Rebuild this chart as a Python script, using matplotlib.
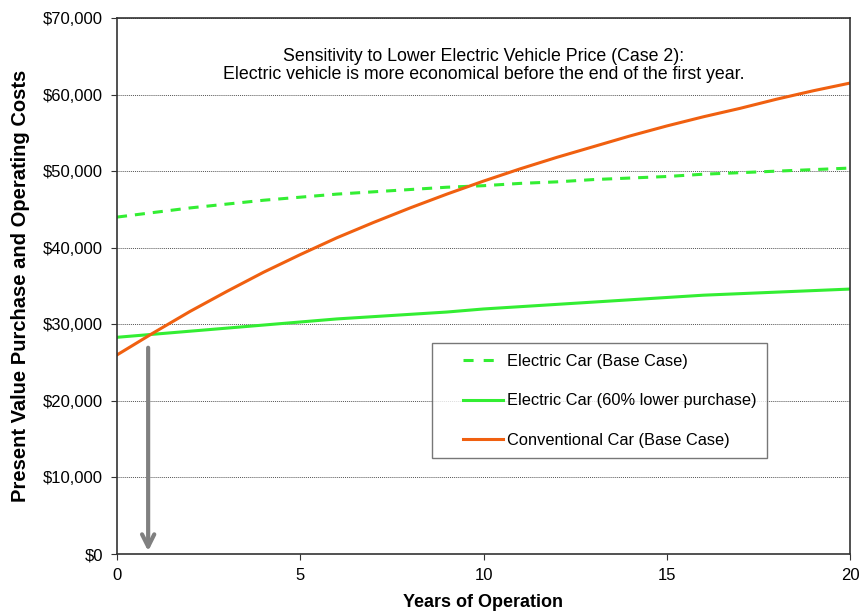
import matplotlib.pyplot as plt
from matplotlib.legend_handler import HandlerLine2D
from matplotlib.ticker import FuncFormatter

plt.rcParams['font.family'] = ['Liberation Sans', 'DejaVu Sans']

years = list(range(0, 21))
electric_base = [44000, 44600, 45200, 45700, 46200, 46600, 47000, 47300, 47600, 47900,
                 48100, 48400, 48600, 48900, 49100, 49300, 49600, 49800, 50000, 50200, 50400]
electric_low = [28300, 28700, 29100, 29500, 29900, 30300, 30700, 31000, 31300, 31600,
                32000, 32300, 32600, 32900, 33200, 33500, 33800, 34000, 34200, 34400, 34600]
conventional = [26000, 28900, 31700, 34300, 36800, 39100, 41300, 43300, 45200, 47000,
                48700, 50300, 51800, 53200, 54600, 55900, 57100, 58200, 59400, 60500, 61500]
breakeven_year = 0.85
breakeven_cost = 28600

fig = plt.figure(figsize=(8.68, 6.16), dpi=100)
ax = fig.add_axes([117 / 868, 62 / 616, 733 / 868, 536 / 616])

ax.plot(years, electric_base, color='#33ee33', lw=2.2, ls=(0, (3.3, 2.6)), label='Electric Car (Base Case)')
ax.plot(years, electric_low, color='#33ee33', lw=2.2, label='Electric Car (60% lower purchase)')
ax.plot(years, conventional, color='#f06010', lw=2.2, label='Conventional Car (Base Case)')

ax.annotate('', xy=(breakeven_year, 0), xytext=(breakeven_year, breakeven_cost - 1300),
            arrowprops=dict(arrowstyle='->', color='#808080', lw=3, mutation_scale=22))

ax.set_xlim(0, 20)
ax.set_ylim(0, 70000)
ax.set_xticks([0, 5, 10, 15, 20])
ax.set_yticks(range(0, 70001, 10000))
ax.yaxis.set_major_formatter(FuncFormatter(lambda v, p: f'${v:,.0f}'))
ax.grid(axis='y', ls=(0, (1, 1)), color='#555555', lw=0.7)
ax.tick_params(labelsize=12, length=4, color='#333333')
ax.tick_params(axis='x', pad=6)
ax.tick_params(axis='y', pad=6)
for s in ax.spines.values():
    s.set_color('#333333')
    s.set_linewidth(1.2)

ax.set_xlabel('Years of Operation', fontsize=13, fontweight='bold', labelpad=8)
ax.set_ylabel('Present Value Purchase and Operating Costs', fontsize=14.5, fontweight='bold', labelpad=9)

ax.text(10, 63800, 'Sensitivity to Lower Electric Vehicle Price (Case 2):\n'
        'Electric vehicle is more economical before the end of the first year.',
        ha='center', va='center', fontsize=12.8, linespacing=1.1)

# pad the legend handles on the left so they sit inset from the frame
pad = HandlerLine2D(xpad=1.26)
leg = ax.legend(loc='upper left', bbox_to_anchor=((432 - 117) / 733, (554 - 343) / 536),
                fontsize=11.8, frameon=True, fancybox=False, edgecolor='#555555',
                borderpad=0.65, labelspacing=1.5, handlelength=3.66, handletextpad=0.25,
                borderaxespad=0, handler_map={plt.Line2D: pad})
leg.get_frame().set_linewidth(1.0)
# two dashes in the legend sample
leg.get_lines()[0].set_linestyle((0, (3.3, 3.3)))

fig.savefig('out.png', dpi=100)
